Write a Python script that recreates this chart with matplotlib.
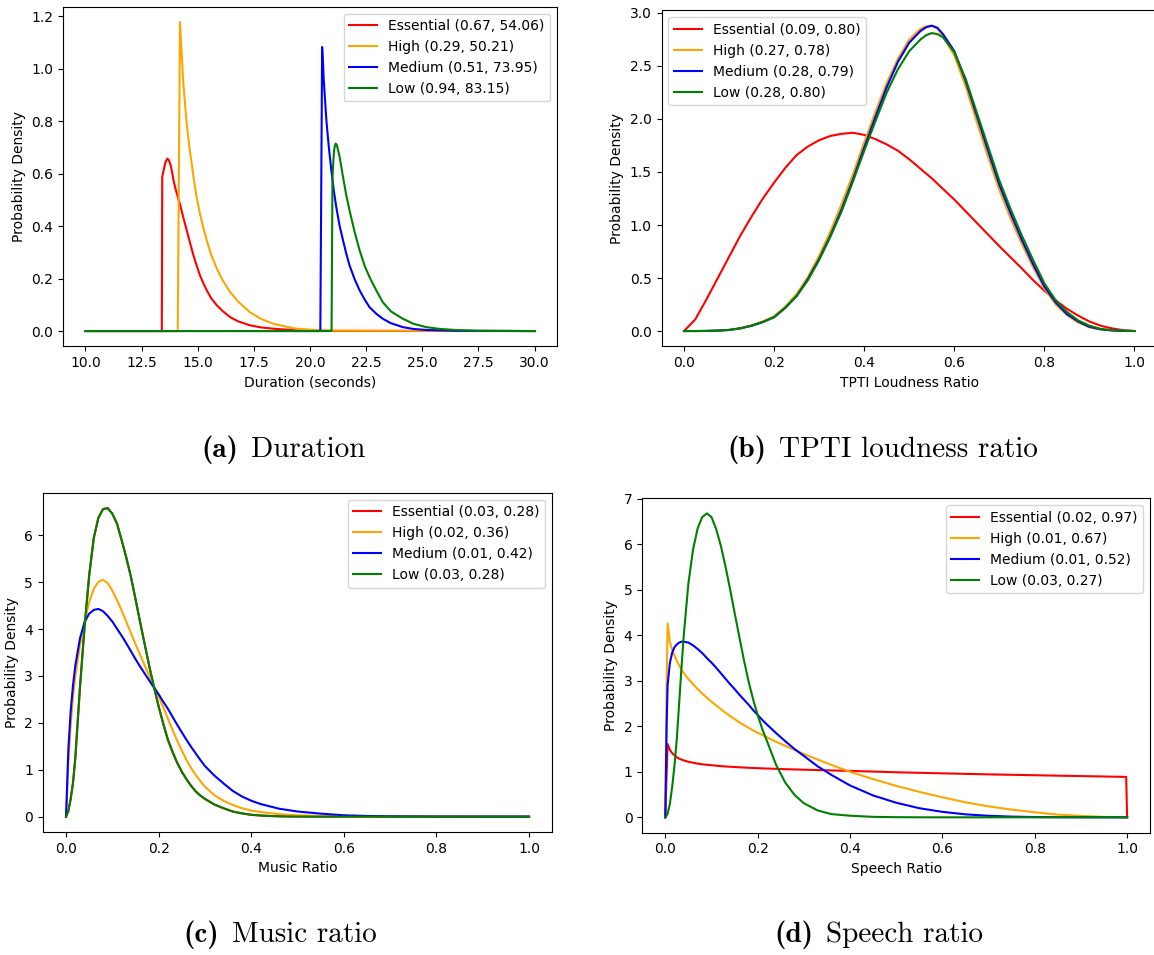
import matplotlib
matplotlib.use('Agg')
import matplotlib.pyplot as plt
from matplotlib.offsetbox import TextArea, HPacker, AnnotationBbox

plt.rcParams['font.size'] = 10

labels = ['Essential', 'High', 'Medium', 'Low']
colors = ['red', 'orange', 'blue', 'green']

# --- duration (seconds) ---
dur_params = ['(0.67, 54.06)', '(0.29, 50.21)', '(0.51, 73.95)', '(0.94, 83.15)']
dur_ess_x = [10.0, 13.40, 13.42, 13.50, 13.57, 13.65, 13.72, 13.80, 13.86, 13.92,
             14.0, 14.1, 14.22, 14.36, 14.51, 14.66, 14.81, 14.95, 15.10, 15.25,
             15.40, 15.6, 15.85, 16.1, 16.44, 16.8, 17.32, 17.8, 18.36, 19.0,
             19.5, 20.2, 21.0, 30.0]
dur_ess_y = [0, 0, 0.587, 0.62, 0.645, 0.657, 0.650, 0.630, 0.605, 0.575,
             0.545, 0.515, 0.480, 0.432, 0.384, 0.335, 0.288, 0.250, 0.212, 0.182,
             0.155, 0.125, 0.098, 0.077, 0.053, 0.037, 0.022, 0.014, 0.009, 0.005,
             0.003, 0.0015, 0.0005, 0]
dur_high_x = [10.0, 14.11, 14.21, 14.25, 14.29, 14.36, 14.44, 14.51, 14.58, 14.66,
              14.74, 14.81, 14.95, 15.10, 15.25, 15.40, 15.6, 15.85, 16.1, 16.44,
              16.8, 17.32, 17.8, 18.36, 19.3, 20.5, 30.0]
dur_high_y = [0, 0, 1.177, 1.11, 1.05, 0.942, 0.86, 0.79, 0.735, 0.68,
              0.632, 0.587, 0.51, 0.447, 0.393, 0.346, 0.29, 0.238, 0.195, 0.149,
              0.112, 0.072, 0.047, 0.028, 0.010, 0.002, 0]
dur_med_x = [10.0, 20.46, 20.54, 20.58, 20.61, 20.67, 20.73, 20.79, 20.84, 20.95,
             21.06, 21.17, 21.32, 21.47, 21.6, 21.76, 22.0, 22.21, 22.45, 22.65,
             22.95, 23.24, 23.6, 24.13, 24.6, 25.2, 26.5, 30.0]
dur_med_y = [0, 0, 1.082, 1.02, 0.96, 0.88, 0.803, 0.745, 0.70, 0.612,
             0.535, 0.472, 0.40, 0.346, 0.30, 0.250, 0.195, 0.155, 0.118, 0.091,
             0.066, 0.047, 0.030, 0.015, 0.008, 0.004, 0.001, 0]
dur_low_x = [10.0, 20.96, 21.00, 21.04, 21.07, 21.10, 21.14, 21.18, 21.22, 21.32,
             21.47, 21.61, 21.76, 21.98, 22.21, 22.45, 22.65, 22.95, 23.24, 23.6,
             24.13, 24.6, 25.17, 25.8, 26.5, 27.5, 30.0]
dur_low_y = [0, 0, 0.58, 0.65, 0.685, 0.703, 0.714, 0.711, 0.70, 0.663,
             0.587, 0.52, 0.46, 0.38, 0.307, 0.245, 0.206, 0.155, 0.110, 0.075,
             0.047, 0.028, 0.015, 0.008, 0.004, 0.001, 0]

# --- TPTI loudness ratio ---
loud_params = ['(0.09, 0.80)', '(0.27, 0.78)', '(0.28, 0.79)', '(0.28, 0.80)']
loud_x = [0, 0.025, 0.05, 0.075, 0.10, 0.125, 0.15, 0.175, 0.20, 0.225,
          0.25, 0.275, 0.30, 0.325, 0.35, 0.375, 0.40, 0.425, 0.45, 0.475,
          0.50, 0.525, 0.5375, 0.55, 0.5625, 0.575, 0.60, 0.625, 0.65, 0.675, 0.70, 0.725,
          0.75, 0.775, 0.80, 0.825, 0.85, 0.875, 0.90, 0.925, 0.95, 0.975, 1.0]
loud_ess = [0, 0.11, 0.30, 0.50, 0.70, 0.90, 1.08, 1.25, 1.40, 1.54,
            1.66, 1.74, 1.80, 1.84, 1.86, 1.87, 1.85, 1.81, 1.76, 1.70,
            1.62, 1.53, 1.485, 1.44, 1.39, 1.34, 1.24, 1.13, 1.02, 0.91, 0.80, 0.695,
            0.59, 0.48, 0.38, 0.29, 0.21, 0.145, 0.09, 0.05, 0.025, 0.008, 0]
loud_high = [0, 0, 0.001, 0.005, 0.012, 0.028, 0.055, 0.09, 0.14, 0.23,
             0.35, 0.51, 0.71, 0.94, 1.20, 1.48, 1.78, 2.07, 2.34, 2.57,
             2.75, 2.85, 2.875, 2.88, 2.85, 2.78, 2.60, 2.31, 1.97, 1.64, 1.33, 1.06,
             0.82, 0.60, 0.40, 0.25, 0.15, 0.08, 0.035, 0.014, 0.005, 0.001, 0]
loud_med = [0, 0, 0.001, 0.004, 0.01, 0.025, 0.05, 0.085, 0.13, 0.22,
            0.33, 0.49, 0.68, 0.90, 1.15, 1.43, 1.73, 2.02, 2.30, 2.54,
            2.72, 2.83, 2.865, 2.88, 2.86, 2.80, 2.64, 2.36, 2.03, 1.70, 1.38, 1.11,
            0.86, 0.63, 0.42, 0.27, 0.16, 0.09, 0.04, 0.016, 0.006, 0.001, 0]
loud_low = [0, 0, 0.001, 0.004, 0.01, 0.025, 0.05, 0.085, 0.13, 0.22,
            0.33, 0.48, 0.67, 0.89, 1.13, 1.41, 1.70, 1.98, 2.25, 2.47,
            2.64, 2.75, 2.79, 2.81, 2.80, 2.77, 2.63, 2.38, 2.06, 1.74, 1.42, 1.15,
            0.90, 0.67, 0.45, 0.29, 0.18, 0.10, 0.05, 0.02, 0.008, 0.002, 0]

# --- music ratio ---
music_params = ['(0.03, 0.28)', '(0.02, 0.36)', '(0.01, 0.42)', '(0.03, 0.28)']
music_x = [0, 0.005, 0.01, 0.015,
           0.02, 0.03, 0.04, 0.05, 0.06, 0.07, 0.08, 0.09, 0.10, 0.11,
           0.12, 0.13, 0.14, 0.15, 0.16, 0.17, 0.18, 0.19, 0.20, 0.21,
           0.22, 0.23, 0.24, 0.25, 0.26, 0.27, 0.28, 0.29, 0.30,
           0.32, 0.34, 0.36, 0.38, 0.40, 0.42, 0.44, 0.46, 0.48, 0.50,
           0.55, 0.60, 0.65, 0.70, 0.80, 1.0]
music_ess = [0, 0.12, 0.38, 0.72,
             1.25, 2.75, 4.05, 5.15, 5.95, 6.38, 6.56, 6.58, 6.46, 6.25,
             5.90, 5.53, 5.12, 4.64, 4.15, 3.67, 3.20, 2.76, 2.35, 1.98,
             1.64, 1.38, 1.15, 0.96, 0.80, 0.66, 0.54, 0.45, 0.38,
             0.26, 0.18, 0.11, 0.07, 0.04, 0.025, 0.014, 0.008, 0.005, 0.003,
             0.001, 0, 0, 0, 0, 0]
music_high = [0, 1.15, 1.95, 2.55,
              3.00, 3.65, 4.15, 4.58, 4.86, 5.01, 5.05, 4.98, 4.82, 4.62,
              4.40, 4.16, 3.92, 3.68, 3.45, 3.22, 3.00, 2.79, 2.57, 2.33,
              2.09, 1.85, 1.62, 1.41, 1.21, 1.04, 0.89, 0.76, 0.64,
              0.46, 0.34, 0.25, 0.18, 0.13, 0.10, 0.075, 0.055, 0.04, 0.03,
              0.014, 0.006, 0.003, 0.001, 0, 0]
music_med = [0, 1.45, 2.25, 2.80,
             3.22, 3.80, 4.15, 4.33, 4.41, 4.43, 4.38, 4.28, 4.16, 4.01,
             3.86, 3.70, 3.53, 3.36, 3.20, 3.05, 2.90, 2.75, 2.61, 2.45,
             2.30, 2.13, 1.96, 1.80, 1.64, 1.49, 1.35, 1.21, 1.08,
             0.88, 0.71, 0.55, 0.43, 0.34, 0.27, 0.22, 0.17, 0.14, 0.11,
             0.065, 0.03, 0.015, 0.008, 0.002, 0]
music_low = [0, 0.12, 0.38, 0.72,
             1.25, 2.75, 4.05, 5.15, 5.95, 6.38, 6.56, 6.58, 6.46, 6.25,
             5.90, 5.53, 5.12, 4.64, 4.15, 3.67, 3.20, 2.76, 2.35, 1.98,
             1.64, 1.38, 1.15, 0.96, 0.80, 0.66, 0.54, 0.45, 0.38,
             0.26, 0.18, 0.11, 0.07, 0.04, 0.025, 0.014, 0.008, 0.005, 0.003,
             0.001, 0, 0, 0, 0, 0]

# --- speech ratio ---
speech_params = ['(0.02, 0.97)', '(0.01, 0.67)', '(0.01, 0.52)', '(0.03, 0.27)']
speech_x = [0, 0.003, 0.005, 0.01, 0.015, 0.02, 0.025, 0.03, 0.035, 0.04, 0.05, 0.06,
            0.07, 0.08, 0.09, 0.10, 0.11, 0.12, 0.13, 0.14, 0.15, 0.16, 0.17, 0.18, 0.19,
            0.20, 0.21, 0.22, 0.24, 0.26, 0.28, 0.30, 0.33, 0.36, 0.40, 0.45, 0.50, 0.55,
            0.60, 0.65, 0.70, 0.75, 0.80, 0.85, 0.90, 0.95, 0.998, 1.0]
speech_ess = [0, 1.0, 1.61, 1.48, 1.41, 1.36, 1.32, 1.29, 1.27, 1.25, 1.22, 1.20,
              1.18, 1.165, 1.155, 1.145, 1.135, 1.125, 1.118, 1.111, 1.105, 1.10, 1.094, 1.089, 1.084,
              1.08, 1.076, 1.072, 1.065, 1.058, 1.052, 1.046, 1.038, 1.03, 1.02, 1.005, 0.99, 0.978,
              0.966, 0.955, 0.944, 0.934, 0.925, 0.915, 0.906, 0.897, 0.888, 0]
speech_high = [0, 3.0, 4.26, 3.85, 3.68, 3.55, 3.44, 3.34, 3.25, 3.17, 3.04, 2.93,
               2.82, 2.72, 2.63, 2.54, 2.46, 2.38, 2.30, 2.23, 2.16, 2.09, 2.03, 1.97, 1.91,
               1.86, 1.81, 1.76, 1.66, 1.57, 1.48, 1.39, 1.27, 1.15, 1.00, 0.84, 0.69, 0.56,
               0.44, 0.33, 0.24, 0.17, 0.11, 0.06, 0.03, 0.01, 0.001, 0]
speech_med = [0, 2.07, 2.90, 3.40, 3.62, 3.74, 3.80, 3.84, 3.86, 3.86, 3.84, 3.78,
              3.70, 3.61, 3.50, 3.40, 3.29, 3.17, 3.05, 2.93, 2.82, 2.70, 2.59, 2.48, 2.36,
              2.25, 2.14, 2.04, 1.85, 1.67, 1.50, 1.35, 1.12, 0.93, 0.70, 0.48, 0.32, 0.20,
              0.12, 0.065, 0.033, 0.015, 0.006, 0.002, 0.0005, 0, 0, 0]
speech_low = [0, 0.04, 0.08, 0.30, 0.68, 1.15, 1.74, 2.50, 3.28, 4.00, 5.14, 5.88,
              6.35, 6.60, 6.68, 6.60, 6.34, 5.98, 5.53, 5.03, 4.50, 3.98, 3.47, 3.00, 2.60,
              2.25, 1.94, 1.68, 1.15, 0.76, 0.49, 0.31, 0.15, 0.07, 0.035, 0.01, 0.003, 0,
              0, 0, 0, 0, 0, 0, 0, 0, 0, 0]

W, H = 1154, 955
fig = plt.figure(figsize=(W / 100, H / 100), dpi=100)


def place(left, right, top, bottom):
    # axes box given in pixel coordinates, origin at top-left
    return fig.add_axes([left / W, 1 - bottom / H, (right - left) / W, (bottom - top) / H])


def caption(cx, cy, tag, text):
    # bold "(x)" tag followed by roman caption text, centred at (cx, cy) pixels
    a = TextArea(tag, textprops=dict(family='cmb10', size=21))
    b = TextArea(text, textprops=dict(family='cmr10', size=21))
    box = HPacker(children=[a, b], align='baseline', pad=0, sep=9)
    ab = AnnotationBbox(box, (cx / W, 1 - cy / H), xycoords='figure fraction',
                        frameon=False, box_alignment=(0.5, 0.5))
    fig.add_artist(ab)


ax_a = place(63, 557, 6.6, 346.5)
for xs, ys, c, lab, p in zip([dur_ess_x, dur_high_x, dur_med_x, dur_low_x],
                             [dur_ess_y, dur_high_y, dur_med_y, dur_low_y],
                             colors, labels, dur_params):
    ax_a.plot(xs, ys, color=c, lw=1.5, label=f'{lab} {p}')
ax_a.set_xlabel('Duration (seconds)')
ax_a.set_ylabel('Probability Density')
ax_a.legend(loc='upper right')

ax_b = place(661.5, 1157, 10.4, 346.3)
for ys, c, lab, p in zip([loud_ess, loud_high, loud_med, loud_low], colors, labels, loud_params):
    ax_b.plot(loud_x, ys, color=c, lw=1.5, label=f'{lab} {p}')
ax_b.set_xlabel('TPTI Loudness Ratio')
ax_b.set_ylabel('Probability Density')
ax_b.legend(loc='upper left')

ax_c = place(42.9, 552.2, 492.7, 832.1)
for ys, c, lab, p in zip([music_ess, music_high, music_med, music_low], colors, labels, music_params):
    ax_c.plot(music_x, ys, color=c, lw=1.5, label=f'{lab} {p}')
ax_c.set_xlabel('Music Ratio')
ax_c.set_ylabel('Probability Density')
ax_c.legend(loc='upper right')

ax_d = place(642.2, 1150.2, 498.2, 832.5)
for ys, c, lab, p in zip([speech_ess, speech_high, speech_med, speech_low], colors, labels, speech_params):
    ax_d.plot(speech_x, ys, color=c, lw=1.5, label=f'{lab} {p}')
ax_d.set_xlabel('Speech Ratio')
ax_d.set_ylabel('Probability Density')
ax_d.legend(loc='upper right')

caption(283, 450, '(a)', 'Duration')
caption(883, 450, '(b)', 'TPTI loudness ratio')
caption(280, 935, '(c)', 'Music ratio')
caption(879, 935, '(d)', 'Speech ratio')

fig.savefig('out.png', dpi=100)
